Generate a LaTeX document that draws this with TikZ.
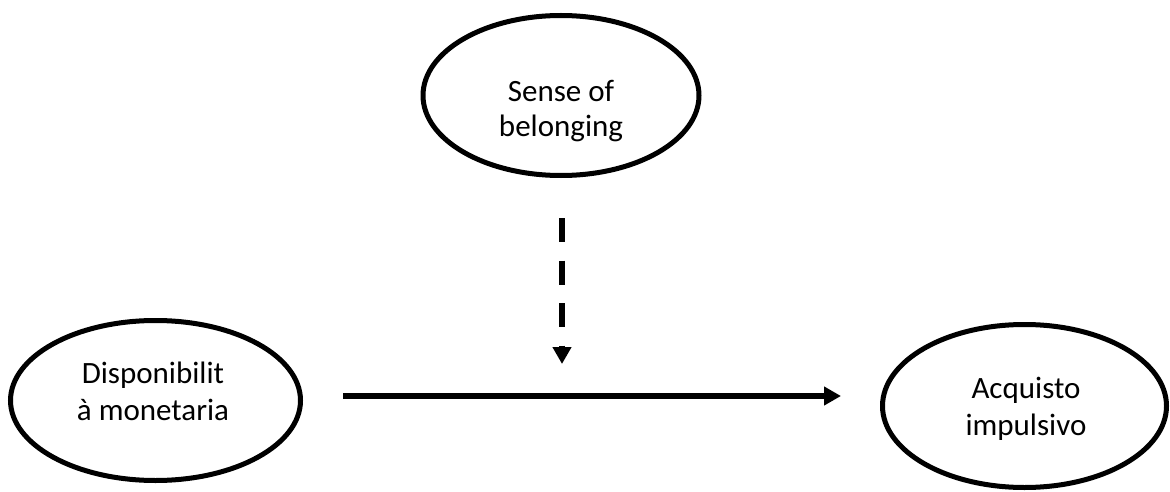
\documentclass[tikz,border=0pt]{standalone}
\usepackage{fontspec}
\setmainfont{Carlito}
\usetikzlibrary{shapes.geometric,arrows.meta}
\begin{document}
\begin{tikzpicture}[x=1pt,y=-1pt,
  construct/.style={draw,line width=5pt,ellipse,inner sep=0pt},
  caption/.style={anchor=base,inner sep=0pt,font=\fontsize{31}{37}\selectfont},
  link/.style={line width=5.5pt,-{Triangle[length=17pt,width=18pt]}}]
\useasboundingbox (0,0) rectangle (1170,492);
\fill[white] (0,0) rectangle (1170,492);
% moderator and the two main constructs
\node[construct,minimum width=276pt,minimum height=160pt] (sob) at (561,95.5) {};
\node[construct,minimum width=290pt,minimum height=160pt] (dm) at (155.5,400.5) {};
\node[construct,minimum width=284pt,minimum height=163pt] (ai) at (1024.5,406) {};
% their labels, one line at a time
\node[caption] (sob1) at (561,102) {Sense of};
\node[caption] (sob2) at (561,137) {belonging};
\node[caption] (dm1) at (153,383) {Disponibilit};
\node[caption] (dm2) at (153,420) {à monetaria};
\node[caption] (ai1) at (1026,398) {Acquisto};
\node[caption] (ai2) at (1026,435) {impulsivo};
% direct effect
\coordinate (hs) at (343,396);
\coordinate (he) at (841,396);
\draw[link] (hs) -- (he);
% moderating effect, pointing at the direct path
\coordinate (ms) at (562,218);
\coordinate (me) at (562,364);
\draw[link,dash pattern=on 24pt off 18.5pt] (ms) -- (me);
\end{tikzpicture}
\end{document}
